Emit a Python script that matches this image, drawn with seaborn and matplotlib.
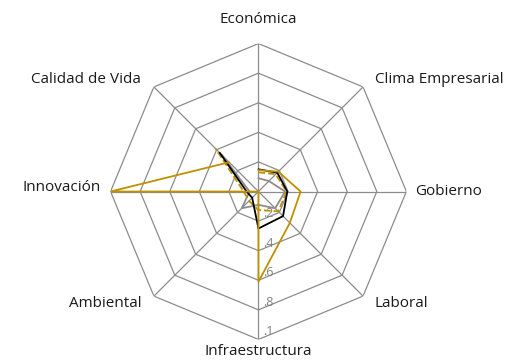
import numpy as np
import pandas as pd
import matplotlib
matplotlib.use("Agg")
import matplotlib.pyplot as plt
import seaborn as sns

# === Datos del gráfico de radar ===
categorias = ["Económica", "Clima Empresarial", "Gobierno", "Laboral",
              "Infraestructura", "Ambiental", "Innovación", "Calidad de Vida"]
oro = [0.145, 0.19, 0.285, 0.30, 0.61, 0.0, 1.0, 0.28]
oro_guiones = [0.13, 0.165, 0.19, 0.19, 0.125, 0.09, 0.10, 0.41]
negro = [0.15, 0.18, 0.195, 0.235, 0.25, 0.06, 0.08, 0.37]
gris = [0.09, 0.10, 0.18, 0.16, 0.09, 0.16, 0.06, 0.35]
niveles = [0.2, 0.4, 0.6, 0.8, 1.0]
etiquetas_niveles = [".2", ".4", ".6", ".8", ".1"]

sns.set_style("white")
plt.rcParams['font.family'] = ['Open Sans', 'DejaVu Sans']

n = len(categorias)
angulos = np.linspace(0, 2 * np.pi, n, endpoint=False)
ang_cerrado = np.append(angulos, angulos[0])

fig = plt.figure(figsize=(5.19, 3.6), dpi=100)
ax = fig.add_axes([0.213, 0.057, 0.570, 0.822], projection="polar")
ax.set_theta_zero_location("N")
ax.set_theta_direction(-1)
ax.set_ylim(0, 1)
ax.grid(False)
ax.spines["polar"].set_visible(False)
ax.set_xticks([])
ax.set_yticks([])

# rejilla octogonal
for nv in niveles:
    ax.plot(ang_cerrado, [nv] * (n + 1), color="#8c8c8c", lw=0.9, zorder=1)
for a in angulos:
    ax.plot([a, a], [0, 1], color="#8c8c8c", lw=0.9, zorder=1)

series = [
    (gris, "#8c8c8c", "-"),
    (oro_guiones, "#BF9000", "--"),
    (negro, "black", "-"),
    (oro, "#BF9000", "-"),
]
for vals, col, ls in series:
    df = pd.DataFrame({"theta": ang_cerrado, "r": vals + vals[:1]})
    sns.lineplot(data=df, x="theta", y="r", sort=False, ax=ax, color=col,
                 lw=1.3, linestyle=ls, zorder=3)
ax.set_xlabel("")
ax.set_ylabel("")

# etiquetas de niveles sobre el eje inferior (px -> pt: *0.72)
for nv, et in zip(niveles, etiquetas_niveles):
    ax.annotate(et, xy=(np.pi, nv), xytext=(3, 5.5), textcoords="offset points",
                ha="left", va="center", color="#808080", fontsize=9, zorder=2)

# etiquetas de categorías
desfases = {
    "Económica": (0, 17, "center"),
    "Clima Empresarial": (8.5, 5.5, "left"),
    "Gobierno": (6, 0, "left"),
    "Laboral": (8.5, -5, "left"),
    "Infraestructura": (0, -9, "center"),
    "Ambiental": (-8.5, -5, "right"),
    "Innovación": (-7, 3, "right"),
    "Calidad de Vida": (-9.5, 5.5, "right"),
}
for a, cat in zip(angulos, categorias):
    dx, dy, ha = desfases[cat]
    ax.annotate(cat, xy=(a, 1.0), xytext=(dx, dy), textcoords="offset points",
                ha=ha, va="center", fontsize=11, color="#1a1a1a")

fig.savefig("out.png", dpi=100)
